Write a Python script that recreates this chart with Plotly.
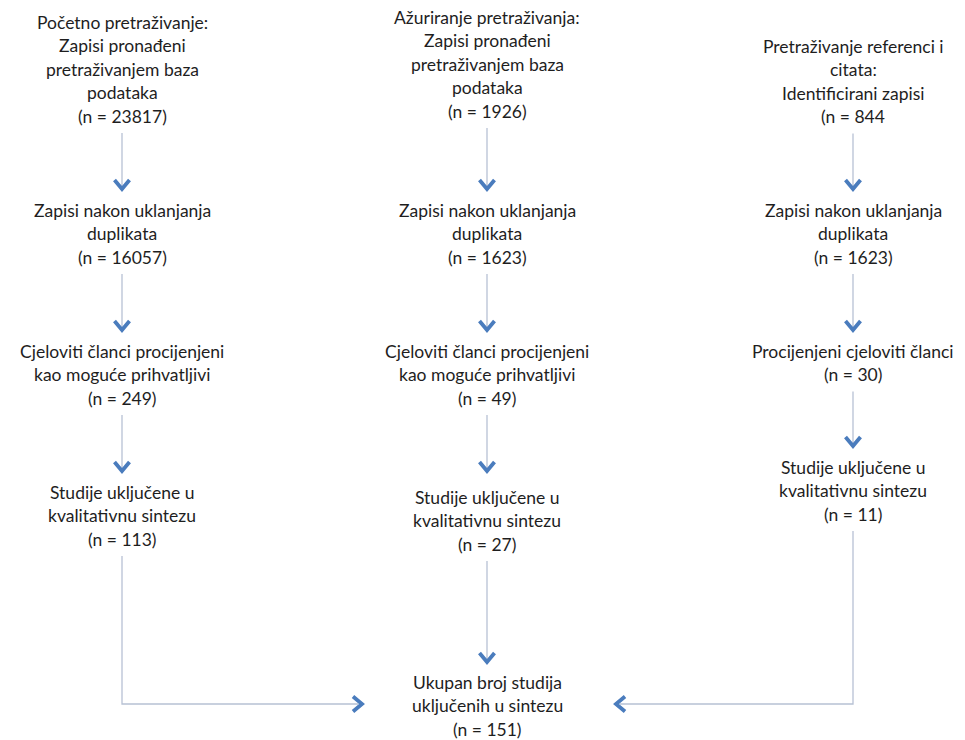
import plotly.graph_objects as go

# ---------------- data ----------------
col1_titles = [
    ["Početno pretraživanje:", "Zapisi pronađeni", "pretraživanjem baza", "podataka"],
    ["Zapisi nakon uklanjanja", "duplikata"],
    ["Cjeloviti članci procijenjeni", "kao moguće prihvatljivi"],
    ["Studije uključene u", "kvalitativnu sintezu"],
]
col1_counts = ["(n = 23817)", "(n = 16057)", "(n = 249)", "(n = 113)"]

col2_titles = [
    ["Ažuriranje pretraživanja:", "Zapisi pronađeni", "pretraživanjem baza", "podataka"],
    ["Zapisi nakon uklanjanja", "duplikata"],
    ["Cjeloviti članci procijenjeni", "kao moguće prihvatljivi"],
    ["Studije uključene u", "kvalitativnu sintezu"],
]
col2_counts = ["(n = 1926)", "(n = 1623)", "(n = 49)", "(n = 27)"]

col3_titles = [
    ["Pretraživanje referenci i", "citata:", "Identificirani zapisi"],
    ["Zapisi nakon uklanjanja", "duplikata"],
    ["Procijenjeni cjeloviti članci"],
    ["Studije uključene u", "kvalitativnu sintezu"],
]
col3_counts = ["(n = 844", "(n = 1623)", "(n = 30)", "(n = 11)"]

total_title = ["Ukupan broj studija", "uključenih u sintezu"]
total_count = "(n = 151)"

# ---------------- layout (pixel positions) ----------------
W, H = 965, 740
PAGE_OFF = 8          # default page body margin
col_x = [122, 487, 853]
first_line_y = [
    [22, 210, 351, 492],
    [17, 210, 351, 497],
    [46, 210, 351, 467],
]
tip_gap = [
    [21, 21, 21],
    [21, 21, 26],
    [21, 21, 21],
]
total_x, total_y = 487, 682
join_y = 704
LS = 23.5        # line spacing

FONT = dict(family="Lato, 'Open Sans', sans-serif", size=17.5, color="#1e1e1e")
LINE_COL = "#b7c1d4"
HEAD_COL = "#4a7cbd"

fig = go.Figure()
annotations = []


def add_block(x, y0, lines):
    for i, t in enumerate(lines):
        annotations.append(dict(x=x, y=y0 + i * LS, text=t, showarrow=False,
                                xref="x", yref="y", xanchor="center",
                                yanchor="middle", font=FONT))
    return y0 + (len(lines) - 1) * LS  # y of last line


def seg(xs, ys):
    fig.add_trace(go.Scatter(x=xs, y=ys, mode="lines",
                             line=dict(color=LINE_COL, width=1.3),
                             hoverinfo="skip", showlegend=False))


def head(xs, ys):
    fig.add_trace(go.Scatter(x=xs, y=ys, mode="lines",
                             line=dict(color=HEAD_COL, width=3.8),
                             hoverinfo="skip", showlegend=False))


def down_arrow(x, y_start, y_tip):
    seg([x, x], [y_start, y_tip - 3])
    head([x - 7.5, x, x + 7.5], [y_tip - 9, y_tip, y_tip - 9])


columns = [(col1_titles, col1_counts), (col2_titles, col2_counts), (col3_titles, col3_counts)]
last_y = []
for c, (titles, counts) in enumerate(columns):
    x = col_x[c]
    prev_last = None
    for b, (title, cnt) in enumerate(zip(titles, counts)):
        y0 = first_line_y[c][b]
        if prev_last is not None:
            down_arrow(x, prev_last + 17, y0 - tip_gap[c][b - 1])
        prev_last = add_block(x, y0, title + [cnt])
    last_y.append(prev_last)

total_last = add_block(total_x, total_y, total_title + [total_count])

# centre column feeds straight down
down_arrow(col_x[1], last_y[1] + 17, total_y - 20)

# left column: down then right
lx = col_x[0]
seg([lx, lx, 358], [last_y[0] + 17, join_y, join_y])
head([353, 362, 353], [join_y - 7.5, join_y, join_y + 7.5])

# right column: down then left
rx = col_x[2]
seg([rx, rx, 620], [last_y[2] + 17, join_y, join_y])
head([625, 616, 625], [join_y - 7.5, join_y, join_y + 7.5])

fig.update_layout(
    width=W - PAGE_OFF, height=H - PAGE_OFF,
    margin=dict(l=0, r=0, t=0, b=0),
    paper_bgcolor="white", plot_bgcolor="white",
    xaxis=dict(range=[PAGE_OFF, W], visible=False, fixedrange=True),
    yaxis=dict(range=[H, PAGE_OFF], visible=False, fixedrange=True),
    annotations=annotations,
    showlegend=False,
)

fig.write_html("out.html")
